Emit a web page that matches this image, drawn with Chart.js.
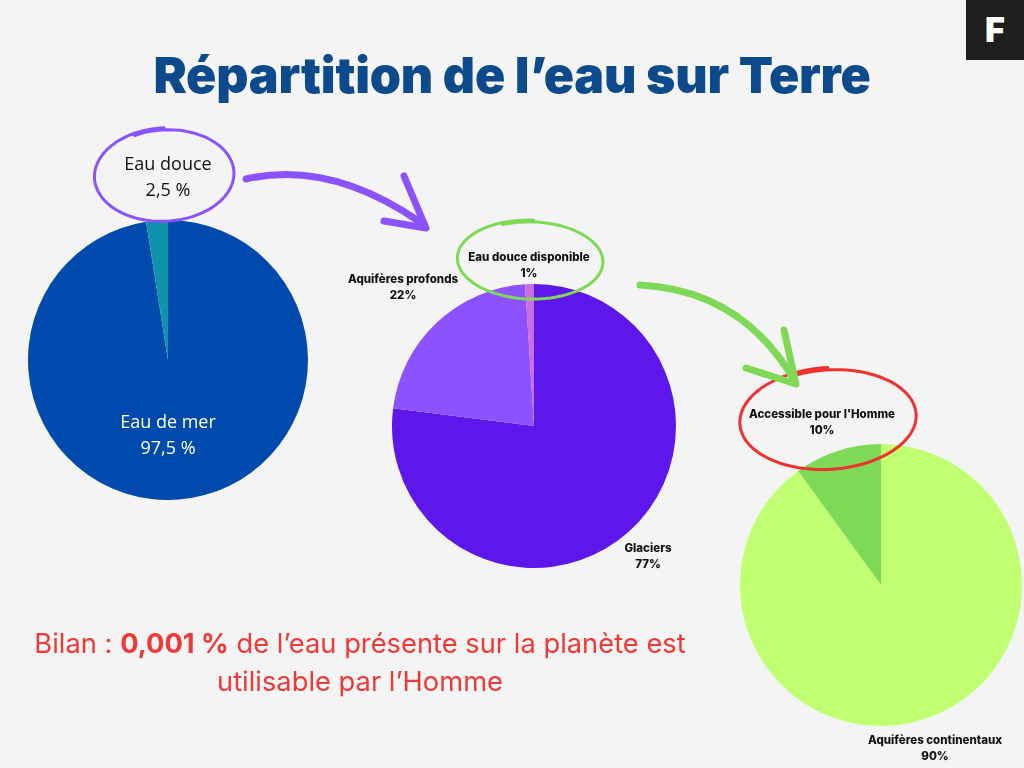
<!DOCTYPE html>
<html>
<head>
<meta charset="utf-8">
<script src="https://cdn.jsdelivr.net/npm/chart.js@4.4.0/dist/chart.umd.min.js"></script>
<style>
  body { margin: 0; width: 1024px; height: 768px; background: #f4f4f4; overflow: hidden; position: relative; font-family: Inter, "Noto Sans", sans-serif; }
  #title { position: absolute; left: 0; width: 1024px; top: 45px; margin: 0; text-align: center; font: 900 50px Inter, sans-serif; color: #0c4a8c; letter-spacing: -0.2px; }
  .logo { position: absolute; left: 966px; top: 0; width: 58px; height: 60px; background: #1e1e1e; color: #fff; font: 900 34px Inter, sans-serif; text-align: center; line-height: 60px; }
  canvas { position: absolute; }
  #deco { position: absolute; left: 0; top: 0; }
  .lbl { position: absolute; transform: translateX(-50%); text-align: center; white-space: nowrap; color: #111; }
  .small { font: 800 11.5px Inter, sans-serif; line-height: 16px; }
  .big { font: 500 18px "Open Sans", sans-serif; line-height: 26px; }
  .bilan { position: absolute; left: 0; width: 720px; top: 625px; text-align: center; color: #ef3838; font: 400 27.3px Inter, sans-serif; line-height: 38px; }
  .bilan b { font-weight: 700; }
</style>
</head>
<body>
<h1 id="title">Répartition de l’eau sur Terre</h1>
<div class="logo">F</div>
<canvas id="pieTerre" width="280" height="280" style="left:28px;top:220px"></canvas>
<canvas id="pieDouce" width="284" height="284" style="left:392px;top:284px"></canvas>
<canvas id="pieAcces" width="282" height="282" style="left:740px;top:444px"></canvas>
<svg id="deco" width="1024" height="768"></svg>
<div id="labels"></div>
<div class="bilan">Bilan : <b>0,001 %</b> de l’eau présente sur la planète est<br>utilisable par l’Homme</div>
<script>
// --- données ---
const terreLabels = ['Eau de mer', 'Eau douce'];
const terreValues = [97.5, 2.5];
const terreColors = ['#004aad', '#0f93ad'];

const douceLabels = ['Glaciers', 'Aquifères profonds', 'Eau douce disponible'];
const douceValues = [77, 22, 1];
const douceColors = ['#5e17eb', '#8c52ff', '#cb6ce6'];

const accesLabels = ['Aquifères continentaux', "Accessible pour l'Homme"];
const accesValues = [90, 10];
const accesColors = ['#c1ff72', '#7ed957'];

function makePie(id, labels, values, colors) {
  return new Chart(document.getElementById(id), {
    type: 'pie',
    data: { labels, datasets: [{ data: values, backgroundColor: colors, borderWidth: 0, hoverOffset: 0 }] },
    options: {
      responsive: false, animation: false, events: [],
      layout: { padding: 0 },
      plugins: { legend: { display: false }, tooltip: { enabled: false } }
    }
  });
}
makePie('pieTerre', terreLabels, terreValues, terreColors);
makePie('pieDouce', douceLabels, douceValues, douceColors);
makePie('pieAcces', accesLabels, accesValues, accesColors);

// étiquettes (texte tiré des tableaux)
const frPct = v => String(v).replace('.', ',') + ' %';
const pct = v => v + '%';
const labelSpots = [
  [terreLabels[1], frPct(terreValues[1]), 168, 150, 'big', '#111'],
  [terreLabels[0], frPct(terreValues[0]), 168, 408, 'big', '#fff'],
  [douceLabels[1], pct(douceValues[1]), 403, 271, 'small', '#111'],
  [douceLabels[2], pct(douceValues[2]), 529, 249, 'small', '#111'],
  [douceLabels[0], pct(douceValues[0]), 648, 540, 'small', '#111'],
  [accesLabels[1], pct(accesValues[1]), 822, 406, 'small', '#111'],
  [accesLabels[0], pct(accesValues[0]), 935, 732, 'small', '#111']
];
const box = document.getElementById('labels');
labelSpots.forEach(([name, val, x, y, cls, col]) => {
  const d = document.createElement('div');
  d.className = 'lbl ' + cls;
  d.style.left = x + 'px'; d.style.top = y + 'px'; d.style.color = col;
  d.innerHTML = name + '<br>' + val;
  box.appendChild(d);
});

// cercles et flèches dessinés à la main
const svg = document.getElementById('deco');
function ring(cx, cy, rx, ry, rot, color, w) {
  let pts = [];
  const a0 = -2.0, n = 80;
  for (let i = 0; i <= n; i++) {
    const t = a0 + (2 * Math.PI + 0.45) * i / n;
    const k = 1 + 0.05 * i / n;
    const x = rx * k * Math.cos(t), y = ry * k * Math.sin(t);
    const c = Math.cos(rot), s = Math.sin(rot);
    pts.push((cx + x * c - y * s).toFixed(1) + ',' + (cy + x * s + y * c).toFixed(1));
  }
  svg.insertAdjacentHTML('beforeend',
    `<polyline points="${pts.join(' ')}" fill="none" stroke="${color}" stroke-width="${w}" stroke-linecap="round" stroke-linejoin="round"/>`);
}
function arrow(d, head, color, w) {
  svg.insertAdjacentHTML('beforeend',
    `<path d="${d}" fill="none" stroke="${color}" stroke-width="${w}" stroke-linecap="round"/>` +
    `<path d="${head}" fill="none" stroke="${color}" stroke-width="${w}" stroke-linecap="round" stroke-linejoin="round"/>`);
}
ring(165, 175, 68, 45, -0.05, '#8c52ff', 3);
ring(531, 260, 71, 38, 0.03, '#7ed957', 3);
ring(829, 419, 86, 49, -0.06, '#ef3131', 3);
arrow('M246 179 Q330 160 420 222', 'M404 176 L426 228 L384 221', '#8c52ff', 7);
arrow('M640 285 Q740 290 793 378', 'M784 330 L796 384 L746 368', '#7ed957', 7);
</script>
</body>
</html>
